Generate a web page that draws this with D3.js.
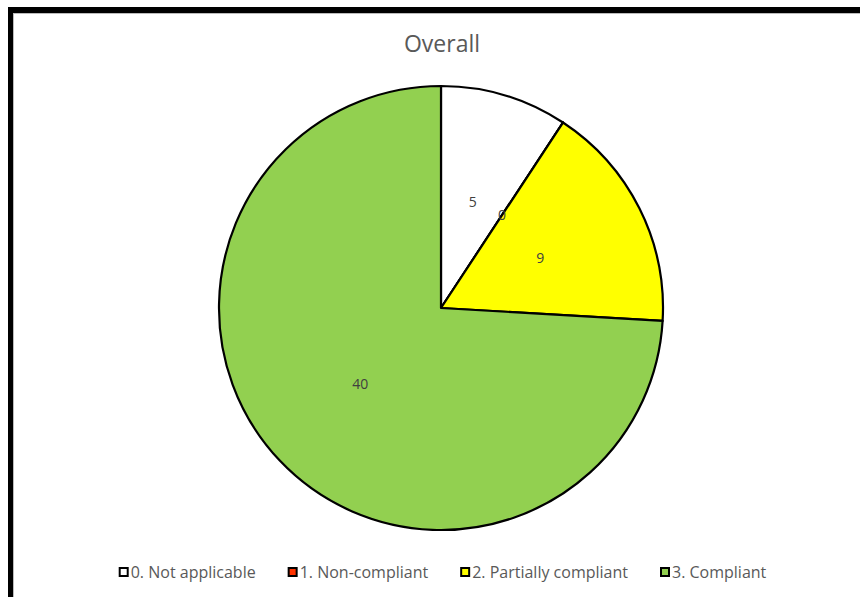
<!DOCTYPE html>
<html><head><meta charset="utf-8">
<script src="https://cdn.jsdelivr.net/npm/d3@7"></script>
<style>body{margin:0;background:#fff;overflow:hidden}svg{display:block}</style>
</head><body>
<svg id="chart" width="860" height="597"></svg>
<script>
const title = "Overall";
const categories = ["0. Not applicable", "1. Non-compliant", "2. Partially compliant", "3. Compliant"];
const values = [5, 0, 9, 40];
const colors = ["#ffffff", "#ff3300", "#ffff00", "#92d050"];

const W = 860, H = 597;
const svg = d3.select("#chart");
const font = "'Open Sans', 'Noto Sans', sans-serif";

// frame
svg.append("rect").attr("x", 0).attr("y", 0).attr("width", W).attr("height", H).attr("fill", "#fff");
svg.append("rect").attr("x", 8).attr("y", 7).attr("width", W).attr("height", 6).attr("fill", "#000");
svg.append("rect").attr("x", 8).attr("y", 7).attr("width", 5).attr("height", H).attr("fill", "#000");
svg.append("line").attr("x1", 13).attr("x2", W).attr("y1", 13.5).attr("y2", 13.5).attr("stroke", "#bbb").attr("stroke-width", 1);
svg.append("line").attr("x1", 13.5).attr("x2", 13.5).attr("y1", 13).attr("y2", H).attr("stroke", "#bbb").attr("stroke-width", 1);

// title
svg.append("text").attr("x", 442).attr("y", 52).attr("text-anchor", "middle")
  .attr("font-family", font).attr("font-size", 23).attr("fill", "#595959").text(title);

// pie
const cx = 441, cy = 308, r = 222;
const pie = d3.pie().sort(null).value(d => d)(values);
const arc = d3.arc().innerRadius(0).outerRadius(r);
const labelArc = d3.arc().innerRadius(r / 2).outerRadius(r / 2);
const g = svg.append("g").attr("transform", `translate(${cx},${cy})`);
g.selectAll("path").data(pie).join("path")
  .attr("d", arc).attr("fill", (d, i) => colors[i])
  .attr("stroke", "#000").attr("stroke-width", 2.2).attr("stroke-linejoin", "round");
g.selectAll("text.lbl").data(pie).join("text").attr("class", "lbl")
  .attr("transform", d => `translate(${labelArc.centroid(d)})`)
  .attr("text-anchor", "middle").attr("dy", "0.35em")
  .attr("font-family", font).attr("font-size", 14).attr("fill", "#404040")
  .text(d => d.data);

// legend
const lg = svg.append("g");
const fs = 16, sq = 8, gapSq = 2, gapItem = 33;
const items = lg.selectAll("g").data(categories).join("g");
items.append("rect").attr("width", sq).attr("height", sq)
  .attr("fill", (d, i) => colors[i]).attr("stroke", "#000").attr("stroke-width", 2);
items.append("text").attr("x", sq + 1 + gapSq).attr("y", sq + 1.5)
  .attr("font-family", font).attr("font-size", fs).attr("fill", "#595959").text(d => d);
let x = 0; const xs = [];
items.each(function () {
  const tw = d3.select(this).select("text").node().getComputedTextLength();
  xs.push(x); x += sq + 1 + gapSq + tw + gapItem;
});
const total = x - gapItem;
const x0 = 443 - total / 2;
items.attr("transform", (d, i) => `translate(${x0 + xs[i]},568)`);
</script>
</body></html>
